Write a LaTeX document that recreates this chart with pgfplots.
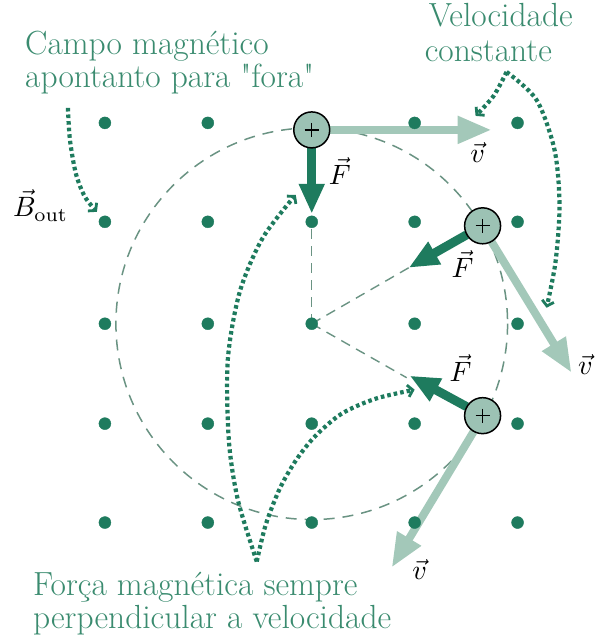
\documentclass[border=0pt]{standalone}
\usepackage{graphicx}
\usepackage{pgfplots}
\pgfplotsset{compat=1.18}
\usetikzlibrary{arrows.meta}

\definecolor{dark}{HTML}{1E7B5E}
\definecolor{txt}{HTML}{3A8B6F}
\definecolor{vel}{HTML}{A3C8B9}
\definecolor{chg}{HTML}{9CC2B4}
\definecolor{trail}{HTML}{6A9383}

\newcommand{\mv}[1]{\scalebox{2.8}{$#1$}}

\begin{document}
\begin{tikzpicture}[
    annot/.style={dark, line width=4.2pt, dash pattern=on 3.6pt off 3pt, smooth,
        -{Straight Barb[length=5pt,width=12pt,line width=2.8pt]}},
    lbl/.style={anchor=base west, inner sep=0, text=txt, font=\fontsize{33.5}{35}\selectfont},
    mlbl/.style={anchor=base, inner sep=0},
]
\begin{axis}[
    scale only axis,
    width=595pt, height=635pt,
    xmin=0, xmax=595, ymin=0, ymax=635,
    y dir=reverse,
    hide axis, clip=false,
]
% page frame
\path (axis cs:0,0) rectangle (axis cs:595,635);

% path of the charge and radii
\draw[trail, line width=1.5pt, dash pattern=on 11pt off 8pt] (axis cs:312,324) circle[radius=196];
\addplot[trail, line width=1.4pt, dash pattern=on 10pt off 7pt] coordinates {(312,324) (312,222)};
\addplot[trail, line width=1.4pt, dash pattern=on 10pt off 7pt] coordinates {(312,324) (409,268)};
\addplot[trail, line width=1.4pt, dash pattern=on 10pt off 7pt] coordinates {(312,324) (407,378)};

% field dots
\addplot[only marks, mark=*, mark size=6pt, dark] coordinates {
(105,123) (208,123) (312,123) (415,123) (518,123)
(105,222) (208,222) (312,222) (415,222) (518,222)
(105,324) (208,324) (312,324) (415,324) (518,324)
(105,424) (208,424) (312,424) (415,424) (518,424)
(105,523) (208,523) (312,523) (415,523) (518,523)};

% velocity arrows
\addplot[vel, line width=8pt, -{Triangle[length=34pt,width=26pt]}] coordinates {(330,130) (492,130)};
\addplot[vel, line width=8pt, -{Triangle[length=34pt,width=26pt]}] coordinates {(492,242) (572,373)};
\addplot[vel, line width=8pt, -{Triangle[length=34pt,width=26pt]}] coordinates {(474,432) (392,568)};

% force arrows
\addplot[dark, line width=9pt, -{Triangle[length=30pt,width=24pt]}] coordinates {(312,148) (312,214)};
\addplot[dark, line width=9pt, -{Triangle[length=30pt,width=24pt]}] coordinates {(467,235) (409,268)};
\addplot[dark, line width=9pt, -{Triangle[length=30pt,width=24pt]}] coordinates {(467,407) (410,376)};

% charges
\addplot[only marks, mark=*, mark size=18pt, mark options={fill=chg, draw=black, line width=1.5pt}] coordinates {(312,130) (483,226) (483,416)};
\addplot[only marks, mark=+, mark size=7pt, mark options={black, line width=1.3pt}] coordinates {(312,130) (483,226) (483,416)};

% annotation arrows
\addplot[annot] coordinates {(68,108) (70,140) (76,174) (85,197) (97,212)};
\addplot[annot] coordinates {(507,72) (494,96) (476,116)};
\addplot[annot] coordinates {(507,72) (537,100) (555,150) (560,205) (556,262) (547,308)};
\addplot[annot] coordinates {(257,562) (238,500) (229,440) (228,360) (240,292) (263,238) (296,195)};
\addplot[annot] coordinates {(257,562) (266,525) (280,489) (296,461) (315,437) (342,414) (376,399) (415,390)};

% texts
\node[lbl] at (axis cs:25,55) {Campo magnético};
\node[lbl] at (axis cs:25,88) {apontanto para \textquotedbl fora\textquotedbl};
\node[lbl] at (axis cs:429,27) {Velocidade};
\node[lbl] at (axis cs:425,62) {constante};
\node[lbl] at (axis cs:33,596) {Força magnética sempre};
\node[lbl] at (axis cs:33,629) {perpendicular a velocidade};

\node[mlbl, anchor=base west] at (axis cs:13,217) {\mv{\vec{B}_{\mathrm{out}}}};
\node[mlbl] at (axis cs:340,185) {\mv{\vec{F}}};
\node[mlbl] at (axis cs:463,278) {\mv{\vec{F}}};
\node[mlbl] at (axis cs:461,382) {\mv{\vec{F}}};
\node[mlbl] at (axis cs:478,163) {\mv{\vec{v}}};
\node[mlbl] at (axis cs:586,375) {\mv{\vec{v}}};
\node[mlbl] at (axis cs:420,580) {\mv{\vec{v}}};
\end{axis}
\end{tikzpicture}
\end{document}
